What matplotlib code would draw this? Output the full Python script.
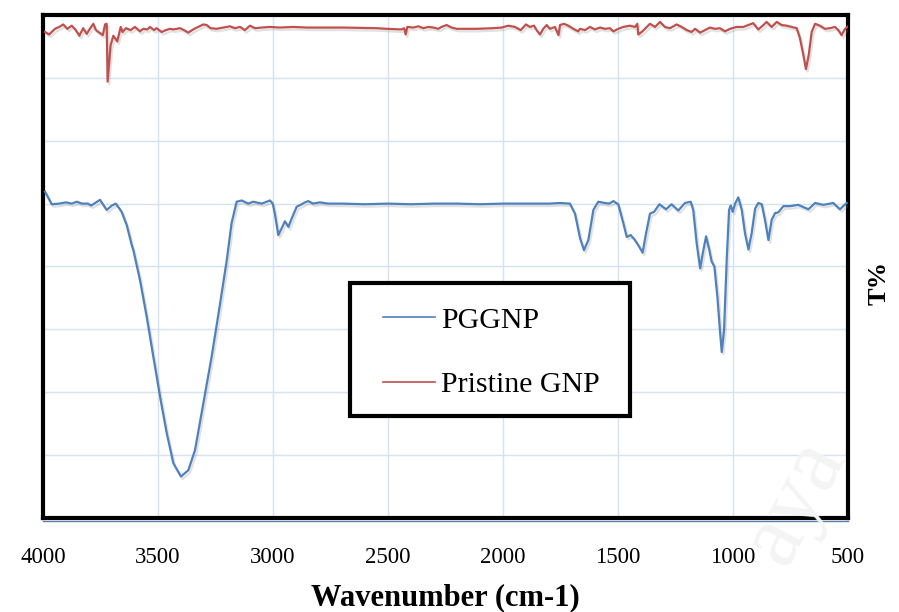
import matplotlib
matplotlib.use("Agg")
import matplotlib.pyplot as plt
import matplotlib.patheffects as pe
from matplotlib.patches import Rectangle
import numpy as np

# FTIR spectra (transmittance, arbitrary offset units)
pggnp_wn = [3991, 3962, 3930, 3900, 3875, 3853, 3830, 3805, 3790, 3752, 3723, 3700, 3683,
            3658, 3636, 3614, 3607, 3578, 3549, 3520, 3491, 3462, 3433, 3400, 3368,
            3339, 3303, 3267, 3230, 3201, 3180, 3158, 3136, 3107, 3086, 3049, 3013,
            3001, 2991, 2977, 2962, 2948, 2933, 2919, 2897, 2875, 2861, 2847, 2825,
            2796, 2760, 2700, 2600, 2500, 2400, 2300, 2200, 2100, 2000, 1900, 1800,
            1752, 1709, 1687, 1665, 1648, 1629, 1607, 1586, 1557, 1538, 1520, 1499,
            1477, 1462, 1445, 1426, 1407, 1393, 1378, 1361, 1343, 1320, 1291, 1267,
            1238, 1209, 1184, 1173, 1158, 1143, 1129, 1117, 1103, 1093, 1081, 1068,
            1057, 1049, 1039, 1027, 1017, 1010, 1001, 991, 977, 962, 948, 933, 919,
            904, 890, 875, 861, 846, 832, 817, 803, 781, 752, 716, 672, 643, 607,
            564, 535, 506]
pggnp_t = [5.19, 4.99, 5.00, 5.02, 5.00, 5.03, 5.00, 5.00, 4.97, 5.06, 4.90, 4.97, 5.00,
           4.87, 4.66, 4.34, 4.26, 3.78, 3.20, 2.56, 1.93, 1.35, 0.87, 0.66, 0.76,
           1.08, 1.82, 2.56, 3.41, 4.10, 4.69, 5.03, 5.05, 5.00, 5.03, 5.00, 5.05,
           5.00, 4.82, 4.50, 4.61, 4.72, 4.63, 4.76, 4.95, 4.99, 5.02, 5.04, 5.00,
           5.02, 5.00, 5.00, 4.99, 5.00, 4.99, 5.00, 5.00, 4.99, 5.00, 5.00, 5.00,
           5.01, 5.00, 4.84, 4.45, 4.26, 4.42, 4.90, 5.03, 5.01, 5.00, 5.04, 4.99,
           4.69, 4.47, 4.50, 4.42, 4.31, 4.22, 4.53, 4.84, 4.87, 4.99, 4.91, 4.99,
           4.89, 5.01, 5.03, 4.90, 4.37, 3.97, 4.26, 4.48, 4.26, 4.08, 4.00, 3.52,
           2.99, 2.64, 2.99, 4.15, 4.90, 4.97, 4.87, 5.00, 5.10, 4.90, 4.53, 4.27, 4.53,
           4.92, 5.01, 4.99, 4.74, 4.42, 4.74, 4.85, 4.86, 4.96, 4.96, 4.98, 4.91, 5.01, 4.98,
           5.01, 4.91, 5.01]

pristine_wn = [3991, 3973, 3948, 3929, 3912, 3894, 3875, 3857, 3842, 3825, 3810, 3796,
               3781, 3770, 3755, 3740, 3730, 3723, 3719, 3706, 3694, 3677, 3662, 3654,
               3639, 3619, 3600, 3578, 3564, 3546, 3535, 3517, 3506, 3484, 3465, 3448,
               3433, 3419, 3404, 3387, 3368, 3347, 3325, 3303, 3288, 3271, 3245, 3216,
               3187, 3165, 3143, 3122, 3100, 3078, 3049, 3013, 2970, 2912, 2853, 2817,
               2694, 2549, 2506, 2441, 2430, 2423, 2416, 2390, 2368, 2346, 2325, 2303,
               2281, 2267, 2245, 2223, 2201, 2173, 2114, 2042, 2006, 1977, 1948, 1923,
               1900, 1883, 1865, 1854, 1839, 1825, 1810, 1796, 1774, 1759, 1752, 1735,
               1716, 1694, 1673, 1665, 1643, 1622, 1600, 1578, 1557, 1535, 1520, 1499,
               1477, 1448, 1426, 1416, 1412, 1397, 1383, 1361, 1339, 1317, 1296, 1274,
               1245, 1223, 1201, 1180, 1165, 1143, 1122, 1100, 1078, 1057, 1035, 1013,
               984, 955, 933, 912, 890, 868, 854, 832, 810, 788, 767, 745, 723, 709,
               694, 683, 671, 658, 643, 622, 600, 578, 557, 542, 528, 513, 502]
pristine_t = [7.73, 7.69, 7.78, 7.81, 7.85, 7.78, 7.83, 7.76, 7.67, 7.79, 7.70, 7.78,
              7.86, 7.76, 7.72, 7.68, 7.85, 7.86, 6.94, 7.52, 7.67, 7.58, 7.81, 7.73,
              7.79, 7.76, 7.81, 7.74, 7.78, 7.77, 7.81, 7.76, 7.79, 7.73, 7.76, 7.78,
              7.77, 7.78, 7.79, 7.76, 7.72, 7.77, 7.81, 7.85, 7.84, 7.79, 7.78, 7.80,
              7.82, 7.79, 7.81, 7.76, 7.83, 7.79, 7.80, 7.81, 7.80, 7.81, 7.80, 7.80,
              7.80, 7.79, 7.78, 7.77, 7.79, 7.69, 7.81, 7.80, 7.82, 7.79, 7.81, 7.80,
              7.78, 7.81, 7.84, 7.80, 7.78, 7.78, 7.78, 7.79, 7.80, 7.83, 7.81, 7.76,
              7.85, 7.81, 7.83, 7.76, 7.69, 7.78, 7.84, 7.78, 7.81, 7.68, 7.84, 7.86,
              7.83, 7.78, 7.74, 7.78, 7.76, 7.81, 7.77, 7.80, 7.78, 7.79, 7.74, 7.78,
              7.81, 7.83, 7.81, 7.86, 7.69, 7.73, 7.78, 7.86, 7.81, 7.89, 7.81, 7.79,
              7.85, 7.81, 7.76, 7.73, 7.78, 7.72, 7.76, 7.80, 7.78, 7.79, 7.74, 7.78,
              7.81, 7.81, 7.84, 7.87, 7.77, 7.84, 7.89, 7.81, 7.89, 7.84, 7.83, 7.81,
              7.79, 7.63, 7.36, 7.14, 7.36, 7.73, 7.86, 7.83, 7.78, 7.79, 7.81, 7.76,
              7.68, 7.78, 7.81]

x_ticks = [4000, 3500, 3000, 2500, 2000, 1500, 1000, 500]
series_labels = ["PGGNP", "Pristine GNP"]
x_title = "Wavenumber (cm-1)"
y_title = "T%"

plt.rcParams["font.family"] = ["Liberation Serif", "DejaVu Serif"]

fig = plt.figure(figsize=(8.99, 6.12), dpi=100)
ax = fig.add_axes([0.0478, 0.1536, 0.8955, 0.8219])

shadow = [pe.SimpleLineShadow(offset=(1.2, -1.8), shadow_color="#888888", alpha=0.25),
          pe.Normal()]
ax.plot(pggnp_wn, pggnp_t, color="#4f81bd", lw=1.6, label=series_labels[0],
        path_effects=shadow, zorder=3)
ax.plot(pristine_wn, pristine_t, color="#c0504d", lw=1.6, label=series_labels[1],
        path_effects=shadow, zorder=3)

ax.set_xlim(4000, 500)
ax.set_ylim(0, 8)
ax.set_xticks(x_ticks)
ax.set_xticklabels([str(v) for v in x_ticks])
ax.set_yticks(np.arange(0, 9, 1))
ax.set_yticklabels([])
ax.tick_params(axis="both", length=0)
ax.tick_params(axis="x", labelsize=16.5, pad=21)
ax.grid(True, color="#d5e2f2", lw=1.0, zorder=0)
ax.set_axisbelow(True)

for s in ax.spines.values():
    s.set_color("black")
    s.set_linewidth(3.0)
# thin axis line along the bottom edge
ax.plot([0, 1], [-0.006, -0.006], transform=ax.transAxes, color="#5b7fae",
        lw=1.0, clip_on=False, zorder=5)

ax.set_xlabel(x_title, fontsize=22, fontweight="bold", labelpad=11)
fig.text(0.978, 1 - 283 / 612, y_title, rotation=90, fontsize=19,
         fontweight="bold", ha="center", va="center")

# legend: framed box drawn separately, entries placed inside it
box = Rectangle((0.381, 0.203), 0.348, 0.264, transform=ax.transAxes,
                facecolor="white", edgecolor="black", lw=3.0, zorder=6)
ax.add_patch(box)
leg = ax.legend(loc="upper left", bbox_to_anchor=(0.4224, 0.4195),
                borderaxespad=0, borderpad=0, fontsize=21.5, handlelength=1.75,
                handletextpad=0.2, labelspacing=1.25, frameon=False)
leg.set_zorder(7)
for h in leg.get_lines():
    h.set_linewidth(1.2)
    h.set_path_effects([])

# faint background mark in the lower right
fig.text(0.885, 0.18, "aya", rotation=62, fontsize=66, color="#f4f4f4",
         ha="center", va="center", zorder=0.5)

fig.savefig("out.png", dpi=100)
